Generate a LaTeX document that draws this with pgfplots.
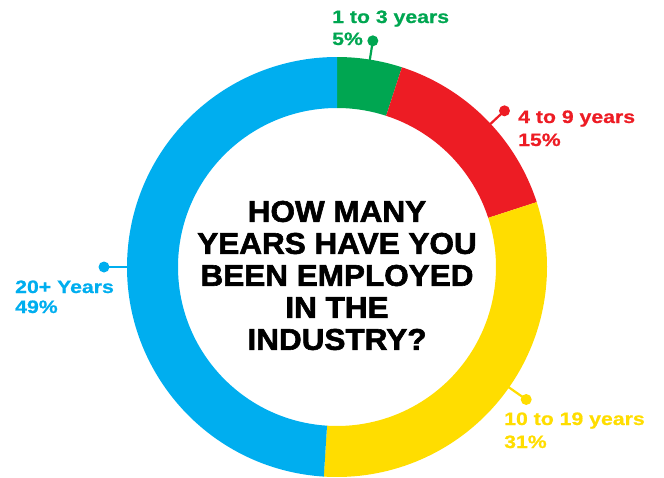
\documentclass[border=0pt]{standalone}
\usepackage{fontspec}
\setmainfont{Liberation Sans}
\usepackage{pgfplots}
\pgfplotsset{compat=1.18}
\usetikzlibrary{calc}

\definecolor{cgreen}{HTML}{00A651}
\definecolor{cred}{HTML}{ED1C24}
\definecolor{cyellow}{HTML}{FFDD00}
\definecolor{cblue}{HTML}{00AEEF}

% shares in percent, clockwise from the top
\def\vA{5}  % 1 to 3 years
\def\vB{15} % 4 to 9 years
\def\vC{31} % 10 to 19 years
\def\vD{49} % 20+ years
\pgfmathsetmacro\aA{90}
\pgfmathsetmacro\aB{\aA-3.6*\vA}
\pgfmathsetmacro\aC{\aB-3.6*\vB}
\pgfmathsetmacro\aD{\aC-3.6*\vC}
\pgfmathsetmacro\aE{\aD-3.6*\vD}

\newcommand\lab{\fontsize{18}{22}\selectfont\bfseries\addfontfeature{FakeStretch=1.18,FakeBold=0.8}}

\begin{document}
\begin{tikzpicture}
\begin{axis}[
  scale only axis, width=664pt, height=477pt,
  xmin=0, xmax=664, ymin=0, ymax=477, y dir=reverse,
  hide axis, clip=false]

  \coordinate (C) at (axis cs:337,267);
  % ring segments
  \fill[cgreen]  ($(C)+(\aA:210pt)$) arc[start angle=\aA, end angle=\aB, radius=210pt] -- ($(C)+(\aB:159pt)$) arc[start angle=\aB, end angle=\aA, radius=159pt] -- cycle;
  \fill[cred]    ($(C)+(\aB:210pt)$) arc[start angle=\aB, end angle=\aC, radius=210pt] -- ($(C)+(\aC:159pt)$) arc[start angle=\aC, end angle=\aB, radius=159pt] -- cycle;
  \fill[cyellow] ($(C)+(\aC:210pt)$) arc[start angle=\aC, end angle=\aD, radius=210pt] -- ($(C)+(\aD:159pt)$) arc[start angle=\aD, end angle=\aC, radius=159pt] -- cycle;
  \fill[cblue]   ($(C)+(\aD:210pt)$) arc[start angle=\aD, end angle=\aE, radius=210pt] -- ($(C)+(\aE:159pt)$) arc[start angle=\aE, end angle=\aD, radius=159pt] -- cycle;

  % leaders
  \draw[cgreen, line width=2.2pt]  ($(C)+(81:209pt)$) -- ($(C)+(81:229pt)$) node[circle, fill, inner sep=0pt, minimum size=11pt]{};
  \draw[cred, line width=2.2pt]    ($(C)+(43:209pt)$) -- ($(C)+(43:229pt)$) node[circle, fill, inner sep=0pt, minimum size=11pt]{};
  \draw[cyellow, line width=2.2pt] ($(C)+(-35:209pt)$) -- ($(C)+(-35:231pt)$) node[circle, fill, inner sep=0pt, minimum size=11pt]{};
  \draw[cblue, line width=2.2pt]   ($(C)+(180:209pt)$) -- ($(C)+(180:233pt)$) node[circle, fill, inner sep=0pt, minimum size=11pt]{};

  % labels
  \node[cgreen, anchor=base west, inner sep=0pt, font=\lab] at (axis cs:332,23) {1 to 3 years};
  \node[cgreen, anchor=base west, inner sep=0pt, font=\lab] at (axis cs:332,45) {5\%};
  \node[cred, anchor=base west, inner sep=0pt, font=\lab] at (axis cs:518,123) {4 to 9 years};
  \node[cred, anchor=base west, inner sep=0pt, font=\lab] at (axis cs:518,146) {15\%};
  \node[cyellow, anchor=base west, inner sep=0pt, font=\lab] at (axis cs:504,425) {10 to 19 years};
  \node[cyellow, anchor=base west, inner sep=0pt, font=\lab] at (axis cs:504,448) {31\%};
  \node[cblue, anchor=base west, inner sep=0pt, font=\lab] at (axis cs:15,293) {20+ Years};
  \node[cblue, anchor=base west, inner sep=0pt, font=\lab] at (axis cs:15,313) {49\%};

  % centre title
  \node[align=center, inner sep=0pt, font=\fontsize{30}{32}\selectfont\bfseries\addfontfeature{FakeStretch=1.05,FakeBold=2}]
    at (axis cs:337,275.5) {HOW MANY\\YEARS HAVE YOU\\BEEN EMPLOYED\\IN THE\\INDUSTRY?};
\end{axis}
\pgfresetboundingbox
\path (0,0) rectangle (664pt,477pt);
\end{tikzpicture}
\end{document}
